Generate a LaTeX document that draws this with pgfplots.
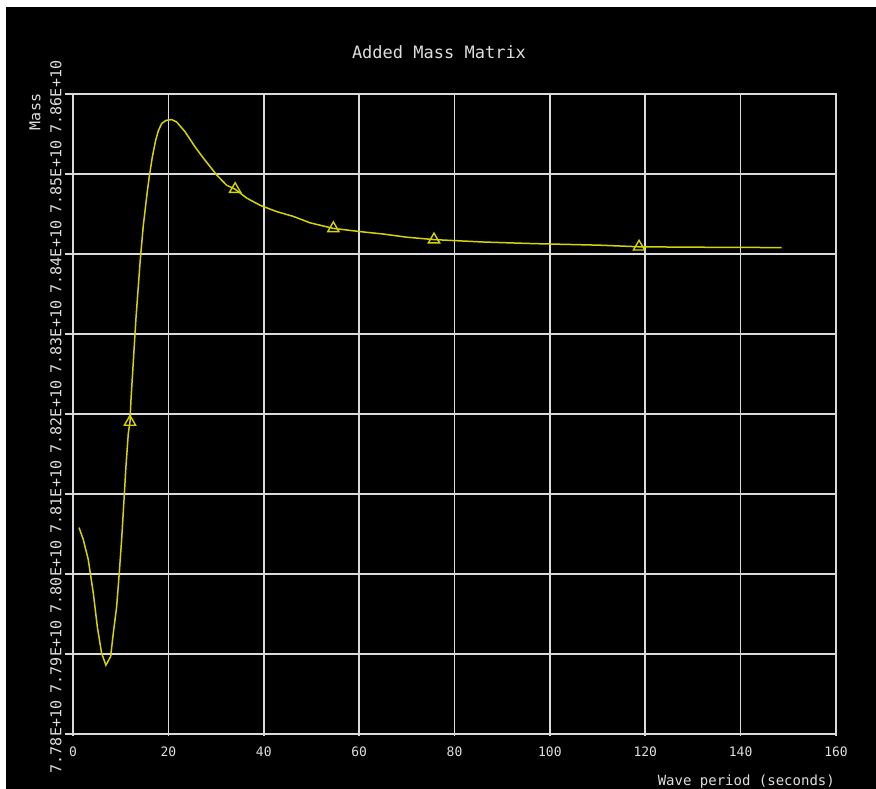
\documentclass[border=0pt]{standalone}
\usepackage{pgfplots}
\pgfplotsset{compat=1.18}
\usepackage{fontspec}
\setmainfont{DejaVu Sans Mono}

\definecolor{gridgray}{RGB}{218,218,218}
\definecolor{curveyellow}{RGB}{212,212,0}
\definecolor{labelgray}{RGB}{222,222,222}

\begin{document}
\begin{tikzpicture}
% page frame: thin white margin top/left, black field
\useasboundingbox (-73pt,-55pt) rectangle (803pt,734pt);
\fill[white] (-73pt,-55pt) rectangle (803pt,734pt);
\fill[black] (-67pt,-55pt) rectangle (803pt,727pt);

\begin{axis}[
  at={(0,0)}, anchor=south west,
  scale only axis, width=763pt, height=640pt,
  clip=false,
  xmin=0, xmax=160,
  ymin=7.78e10, ymax=7.86e10,
  xtick={0,20,40,60,80,100,120,140,160},
  ytick={7.78e10,7.79e10,7.80e10,7.81e10,7.82e10,7.83e10,7.84e10,7.85e10,7.86e10},
  yticklabels={7.78E+10,7.79E+10,7.80E+10,7.81E+10,7.82E+10,7.83E+10,7.84E+10,7.85E+10,7.86E+10},
  scaled y ticks=false,
  xtick pos=bottom, ytick pos=left,
  tick align=outside,
  major tick length=8pt,
  xtick style={/pgfplots/major tick length=2pt},
  tick style={gridgray, line width=1.6pt},
  grid=major,
  grid style={gridgray, line width=1.6pt},
  axis line style={gridgray, line width=1.6pt},
  /pgf/number format/assume math mode=true,
  xticklabel style={font=\fontsize{13}{15}\selectfont, text=labelgray,
    anchor=center, inner sep=0pt, yshift=-10pt},
  % rotated labels: yshift moves them left on the page, xshift down
  yticklabel style={font=\fontsize{15}{18}\selectfont, text=labelgray,
    rotate=90, anchor=center, inner sep=0pt, yshift=9pt, xshift=-3pt},
]
% added mass vs. wave period
\addplot[curveyellow, line width=1.5pt, mark=none] coordinates {
  (1.26,7.8058e10) (2.16,7.8043e10) (3.2,7.8018e10) (4.26,7.7976e10)
  (5.1,7.7934e10) (6.0,7.7901e10) (6.9,7.7886e10) (7.9,7.7897e10)
  (8.45,7.7926e10) (9.15,7.7959e10) (9.7,7.8001e10) (10.2,7.8043e10)
  (10.7,7.8093e10) (11.1,7.8134e10) (11.6,7.8176e10) (11.95,7.8190e10)
  (12.16,7.8218e10) (12.93,7.8293e10) (13.21,7.8320e10) (13.70,7.8360e10)
  (14.12,7.8394e10) (14.75,7.8436e10) (15.58,7.8478e10) (16.0,7.8497e10)
  (16.63,7.8521e10) (17.33,7.8542e10) (17.89,7.8554e10) (18.59,7.8563e10)
  (19.5,7.8567e10) (20.7,7.8568e10) (21.74,7.8565e10) (23.48,7.8553e10)
  (25.58,7.8534e10) (27.32,7.8520e10) (30.1,7.8499e10) (32.2,7.8486e10)
  (34.0,7.8481e10) (36.4,7.8470e10) (39.2,7.8461e10) (42.7,7.8453e10)
  (46.2,7.8447e10) (49.7,7.8439e10) (54.6,7.8432e10) (60.2,7.8428e10)
  (65.0,7.8425e10) (70.0,7.8421e10) (75.7,7.8418e10) (86.0,7.8415e10)
  (96.4,7.8413e10) (110.5,7.8411e10) (118.7,7.8409e10) (130.0,7.84085e10)
  (148.6,7.8408e10)
};
% sample markers along the curve
\addplot[only marks, mark=triangle, mark size=6.5pt,
  mark options={curveyellow, line width=1.4pt}] coordinates {
  (11.95,7.8190e10) (34.0,7.8481e10) (54.6,7.8432e10)
  (75.7,7.8418e10) (118.7,7.8409e10)
};
\end{axis}

\node[font=\fontsize{17}{20}\selectfont, text=labelgray, inner sep=0pt]
  at (366pt,682pt) {Added Mass Matrix};
\node[font=\fontsize{15}{18}\selectfont, text=labelgray, inner sep=0pt, rotate=90]
  at (-38pt,622pt) {Mass};
\node[font=\fontsize{14}{17}\selectfont, text=labelgray, inner sep=0pt, anchor=east]
  at (762pt,-48pt) {Wave period (seconds)};
\end{tikzpicture}
\end{document}
